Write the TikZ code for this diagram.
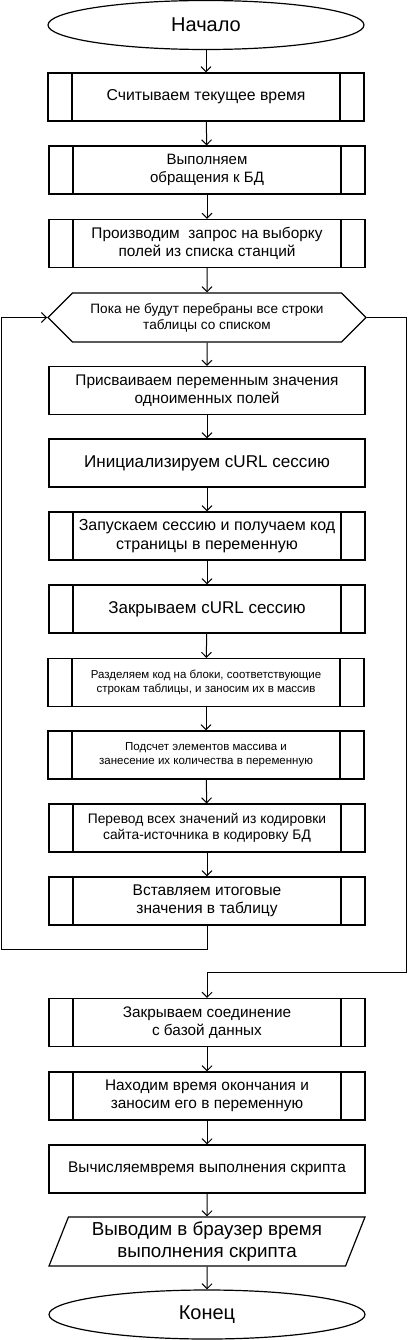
\documentclass[tikz,border=0pt]{standalone}
\usepackage{fontspec}
\setmainfont{Liberation Sans}
\usetikzlibrary{shapes.geometric,shapes.symbols,arrows.meta}

\newcommand{\fsz}[1]{\fontsize{#1}{1.18\dimexpr#1pt\relax}\selectfont}

\begin{document}
\begin{tikzpicture}[x=1pt,y=-1pt,
    line width=1pt,
    >={Straight Barb[length=5pt,width=10pt]},
    block/.style={draw,line width=1.2pt,minimum width=316pt,minimum height=48pt,
        inner sep=0pt,align=center},
    subproc/.style={block,path picture={
        \draw[line width=1.2pt] ([xshift=24pt]path picture bounding box.north west)
            -- ([xshift=24pt]path picture bounding box.south west);
        \draw[line width=1.2pt] ([xshift=-24pt]path picture bounding box.north east)
            -- ([xshift=-24pt]path picture bounding box.south east);}},
    term/.style={draw,ellipse,line width=1.2pt,minimum width=316pt,minimum height=49pt,
        inner sep=0pt},
    loophex/.style={draw,signal,signal to=west and east,signal pointer angle=90,
        line width=1.2pt,minimum width=318pt,minimum height=49pt,inner sep=0pt,align=center},
    io/.style={draw,trapezium,trapezium left angle=64,trapezium right angle=116,
        trapezium stretches body,line width=1.2pt,minimum width=316pt,minimum height=49pt,
        inner sep=0pt,align=center}]
\useasboundingbox (0,0) rectangle (408,1340);

\node [term,font=\fsz{20}]      (start) at (206,25)    {Начало};
\node [subproc,font=\fsz{15.8}] (time)  at (206,97)    {Считываем текущее время};
\node [subproc,font=\fsz{15}]   (conn)  at (207,170)   {Выполняем\\обращения к БД};
\node [subproc,font=\fsz{15.4}] (query) at (207,243.5) {Производим\ \ запрос на выборку\\полей из списка станций};

\node [loophex,font=\fsz{13.6}] (loop)  at (207,317.5) {Пока не будут перебраны все строки\\таблицы со списком};

\node [block,font=\fsz{15.4}]   (vars)  at (207,390.5) {Присваиваем переменным значения\\одноименных полей};
\node [block,font=\fsz{17.1}]   (init)  at (207,463)   {Инициализируем cURL сессию};
\node [subproc,font=\fsz{16}]   (exec)  at (207,536)   {Запускаем сессию и получаем код\\страницы в переменную};
\node [subproc,font=\fsz{17}]   (close) at (207,609)   {Закрываем cURL сессию};
\node [subproc,font=\fsz{11.5}] (split) at (206,682.5) {Разделяем код на блоки, соответствующие\\строкам таблицы, и заносим их в массив};
\node [subproc,font=\fsz{11.5}] (count) at (206,755)   {Подсчет элементов массива и\\занесение их количества в переменную};
\node [subproc,font=\fsz{13.8}] (conv)  at (207,828)   {Перевод всех значений из кодировки\\сайта-источника в кодировку БД};
\node [subproc,font=\fsz{15.5}] (ins)   at (207,901)   {Вставляем итоговые\\значения в таблицу};

\node [subproc,font=\fsz{15.3}] (dbend) at (207,1022.5) {Закрываем соединение\\с базой данных};
\node [subproc,font=\fsz{15.4}] (tend)  at (207,1096)   {Находим время окончания и\\заносим его в переменную};
\node [block,font=\fsz{15.4}]   (calc)  at (207,1169)   {Вычисляемвремя выполнения скрипта};
\node [io,font=\fsz{18.8}]      (out)   at (207,1241.5) {Выводим в браузер время\\выполнения скрипта};
\node [term,font=\fsz{20}]      (stop)  at (207,1314.5) {Конец};

\draw [->] (start) -- (time);
\draw [->] (time) -- (conn);
\draw [->] (conn) -- (query);
\draw [->] (query) -- (loop);
\draw [->] (loop) -- (vars);
\draw [->] (vars) -- (init);
\draw [->] (init) -- (exec);
\draw [->] (exec) -- (close);
\draw [->] (close) -- (split);
\draw [->] (split) -- (count);
\draw [->] (count) -- (conv);
\draw [->] (conv) -- (ins);
\draw [->] (ins.south) -- ++(0,24) -| ([xshift=-46pt]loop.west) -- (loop.west);
\draw [->] (loop.east) -- ++(40,0) |- ([yshift=25pt]dbend.north) -- (dbend.north);
\draw [->] (dbend) -- (tend);
\draw [->] (tend) -- (calc);
\draw [->] (calc) -- (out);
\draw [->] (out) -- (stop);
\end{tikzpicture}
\end{document}
